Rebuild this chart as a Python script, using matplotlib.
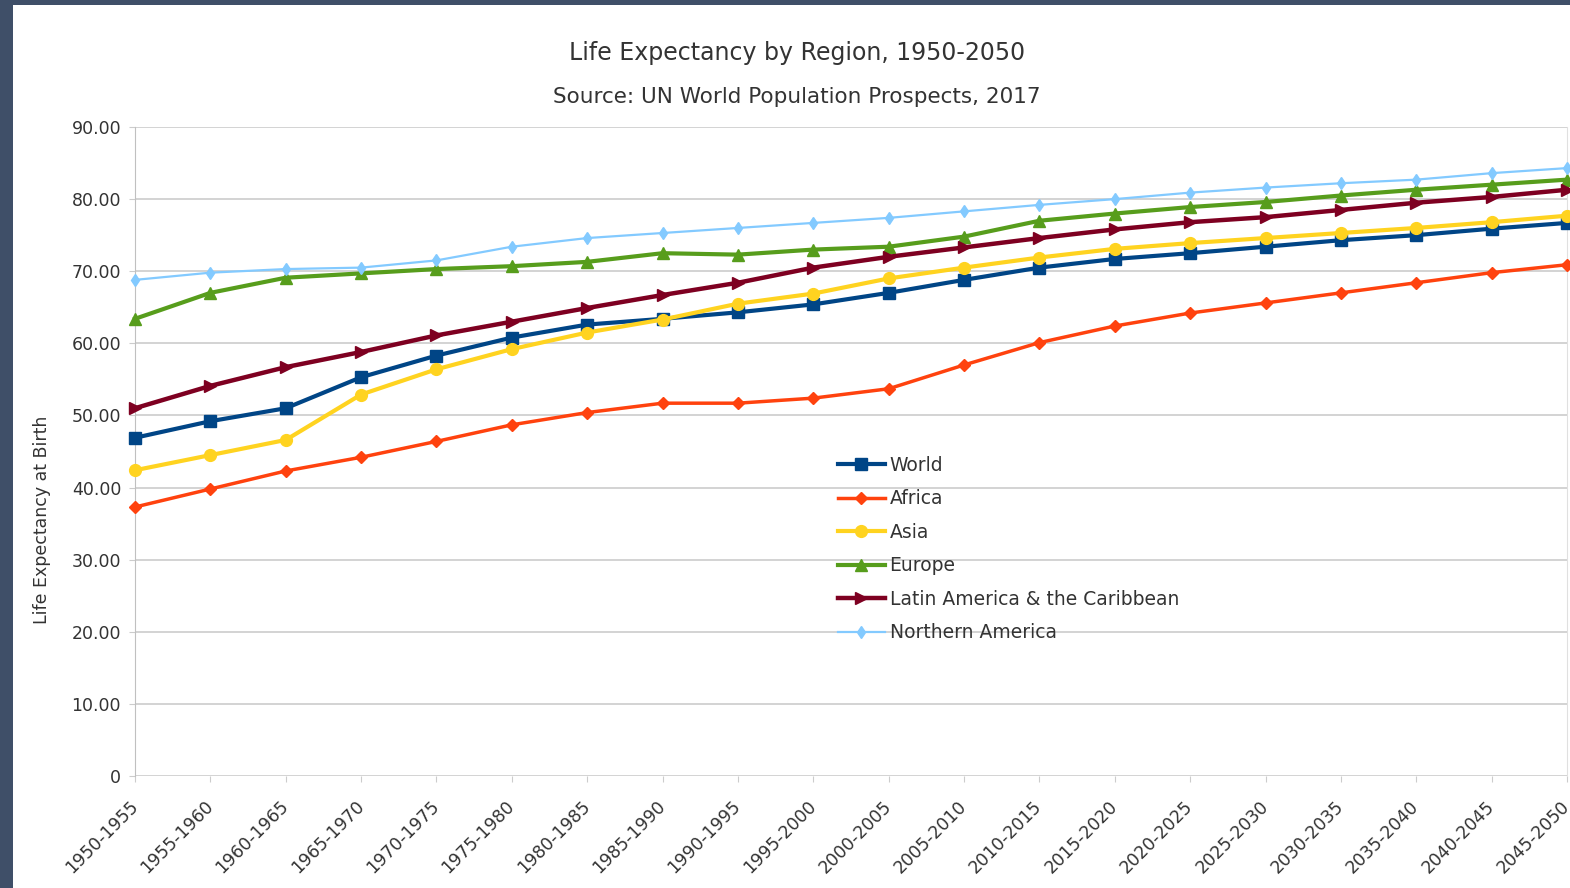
import numpy as np
import matplotlib.pyplot as plt
from matplotlib.patches import Rectangle

plt.rcParams['font.family'] = ['DejaVu Sans']

periods = ['1950-1955', '1955-1960', '1960-1965', '1965-1970', '1970-1975',
           '1975-1980', '1980-1985', '1985-1990', '1990-1995', '1995-2000',
           '2000-2005', '2005-2010', '2010-2015', '2015-2020', '2020-2025',
           '2025-2030', '2030-2035', '2035-2040', '2040-2045', '2045-2050']

world = [46.9, 49.2, 51.0, 55.3, 58.3, 60.8, 62.6, 63.4, 64.3, 65.4,
         67.0, 68.8, 70.5, 71.7, 72.5, 73.4, 74.3, 75.0, 75.9, 76.7]
africa = [37.3, 39.8, 42.3, 44.2, 46.4, 48.7, 50.4, 51.7, 51.7, 52.4,
          53.7, 57.0, 60.1, 62.4, 64.2, 65.6, 67.0, 68.4, 69.8, 70.9]
asia = [42.4, 44.5, 46.6, 52.9, 56.4, 59.2, 61.5, 63.3, 65.5, 66.9,
        69.0, 70.5, 71.9, 73.1, 73.9, 74.6, 75.3, 76.0, 76.8, 77.7]
europe = [63.4, 67.0, 69.1, 69.7, 70.3, 70.7, 71.3, 72.5, 72.3, 73.0,
          73.4, 74.8, 77.0, 78.0, 78.9, 79.6, 80.5, 81.3, 82.0, 82.7]
latam = [51.0, 54.1, 56.7, 58.8, 61.1, 63.0, 64.9, 66.7, 68.4, 70.5,
         72.0, 73.3, 74.6, 75.8, 76.8, 77.5, 78.5, 79.5, 80.3, 81.3]
n_america = [68.8, 69.8, 70.3, 70.5, 71.5, 73.4, 74.6, 75.3, 76.0, 76.7,
             77.4, 78.3, 79.2, 80.0, 80.9, 81.6, 82.2, 82.7, 83.6, 84.3]

series = [
    ('World', world, '#004586', 's', 8.5, 3.0),
    ('Africa', africa, '#ff420e', 'D', 6.5, 2.5),
    ('Asia', asia, '#ffd320', 'o', 8.5, 3.0),
    ('Europe', europe, '#579d1c', '^', 8.5, 3.0),
    ('Latin America & the Caribbean', latam, '#7e0021', '>', 8.5, 3.2),
    ('Northern America', n_america, '#83caff', 'd', 6.0, 1.6),
]

fig = plt.figure(figsize=(15.7, 8.88), dpi=100, facecolor='#3f4f68')
# white chart page over the dark background
fig.patches.append(Rectangle((13/1570, 0), 1, 1 - 5/888, transform=fig.transFigure,
                             facecolor='white', edgecolor='none', zorder=-10))

ax = fig.add_axes((135/1570, 1 - 776/888, 1432/1570, 649/888))
x = np.arange(len(periods))
for i, (name, vals, col, mk, ms, lw) in enumerate(series):
    ax.plot(x, vals, color=col, marker=mk, markersize=ms, lw=lw, label=name,
            zorder=3 + i, clip_on=False)

ax.set_xlim(0, 19)
ax.set_ylim(0, 90)
ax.set_yticks(np.arange(0, 91, 10))
ax.set_yticklabels(['0'] + ['%.2f' % v for v in np.arange(10, 91, 10)])
ax.set_xticks(x)
ax.set_xticklabels(periods, rotation=45, ha='right', va='center',
                   rotation_mode='anchor')
ax.tick_params(axis='x', length=4, color='#cccccc', pad=16, labelsize=12.5,
               labelcolor='#333333')
ax.tick_params(axis='y', length=4, color='#cccccc', pad=6, labelsize=12.5,
               labelcolor='#333333')
ax.grid(axis='y', color='#d0d0d0', lw=1.3)
ax.set_axisbelow(True)
for s in ['top', 'bottom']:
    ax.spines[s].set_visible(False)
ax.spines['left'].set_color('#c0c0c0')
ax.spines['right'].set_color('#e0e0e0')
ax.set_facecolor('none')

ax.set_ylabel('Life Expectancy at Birth', fontsize=12.5, color='#333333')
ax.yaxis.set_label_coords(-0.059, 0.394)

fig.text(797/1570, 1 - 53/888, 'Life Expectancy by Region, 1950-2050',
         ha='center', va='center', fontsize=17, color='#333333')
fig.text(797/1570, 1 - 97/888, 'Source: UN World Population Prospects, 2017',
         ha='center', va='center', fontsize=15.5, color='#333333')

fig.legend(loc='center left', bbox_to_anchor=(838/1570, 1 - 549/888),
           frameon=False, fontsize=13.5, handlelength=2.5, handletextpad=0.25,
           labelspacing=0.77, borderpad=0, borderaxespad=0, labelcolor='#333333')

fig.savefig('out.png', dpi=100, facecolor=fig.get_facecolor())
